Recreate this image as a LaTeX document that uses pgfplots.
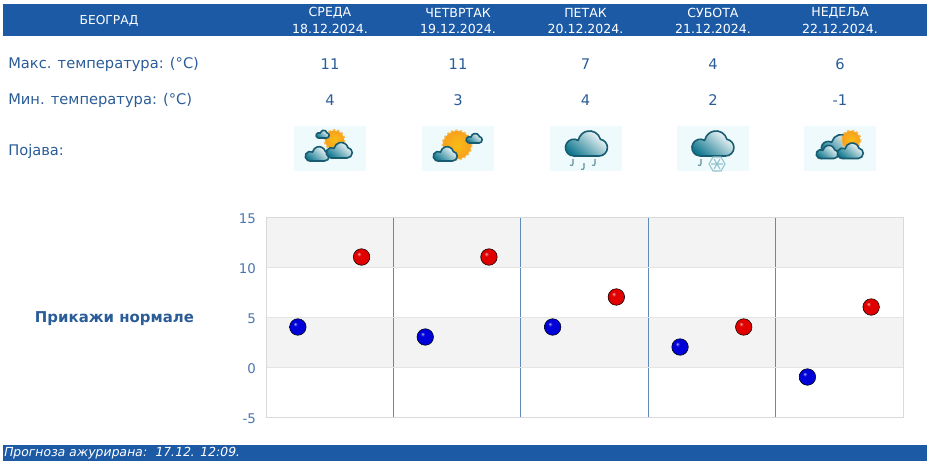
\documentclass[border=0pt]{standalone}
\usepackage{fontspec}
\setmainfont{DejaVu Sans}
\usepackage{pgfplots}
\pgfplotsset{compat=1.18}
\definecolor{band}{HTML}{1C5AA6}
\definecolor{txt}{HTML}{2A5C98}
\definecolor{tick}{HTML}{4A76AE}
\definecolor{vline}{HTML}{5E8ABA}
\definecolor{gline}{HTML}{E4E4E4}
\definecolor{gfill}{HTML}{F3F3F3}
\definecolor{icbg}{HTML}{EFFAFD}
\definecolor{cteal}{HTML}{12788F}
\definecolor{cdark}{HTML}{175C70}
\definecolor{sunc}{HTML}{F7A11E}
\definecolor{ray}{HTML}{F8BE5A}
\definecolor{rb}{HTML}{E00000}
\definecolor{bb}{HTML}{0000D8}
\pgfdeclareradialshading{redb}{\pgfpoint{-9bp}{10bp}}{color(0bp)=(white!70!rb); color(6bp)=(rb); color(24bp)=(rb); color(38bp)=(rb!78!black); color(50bp)=(rb!60!black)}
\pgfdeclareradialshading{blueb}{\pgfpoint{-9bp}{10bp}}{color(0bp)=(white!70!bb); color(6bp)=(bb); color(24bp)=(bb); color(38bp)=(bb!78!black); color(50bp)=(bb!60!black)}
\pgfdeclareplotmark{redball}{\shade[shading=redb] (0pt,0pt) circle (6.2pt);}
\pgfdeclareplotmark{blueball}{\shade[shading=blueb] (0pt,0pt) circle (6.2pt);}
\newcommand{\px}[1]{\fontsize{#1}{#1}\selectfont}
\newcommand{\cloudshape}{(-0.29,0) -- (0.31,0) arc[start angle=-90,end angle=80,radius=0.2] arc[start angle=15,end angle=165,radius=0.27] -- (-0.19,0.373) arc[start angle=60,end angle=270,radius=0.2] -- cycle}
% #1 x centre, #2 bottom y, #3 width
\newcommand{\cloud}[3]{%
 \begin{scope}[shift={(#1,#2)},x=#3*0.75pt,y=#3*0.75pt]
 \shade[bottom color=cteal,top color=white,shading angle=-40,draw=cdark,line width=1.2pt] \cloudshape;
 \end{scope}}
\newcommand{\sun}[3]{%
 \draw[ray,line width=2.2pt,dash pattern=on 1.8pt off 1.4pt] (#1,#2) circle (#3);
 \shade[inner color=sunc!70!yellow,outer color=sunc] (#1,#2) circle (#3);}
\newcommand{\drop}[2]{\draw[cdark!70,line width=0.8pt] (#1,#2) -- ++(0,5) -- ++(-1,1.5) -- ++(-2,-0.5);}
\newcommand{\iconbg}[1]{\fill[icbg] (#1,126) rectangle ++(72,45);}
\pgfplotstableread{
x y
0.25 4
1.25 3
2.25 4
3.25 2
4.25 -1
}\mins
\pgfplotstableread{
x y
0.75 11
1.75 11
2.75 7
3.75 4
4.75 6
}\maxs
\begin{document}
\begin{tikzpicture}
\begin{scope}[x=0.75pt,y=-0.75pt]
\useasboundingbox (0,0) rectangle (927,461);
\fill[band] (3,4) rectangle (927,36);
\fill[band] (3,445) rectangle (927,461);
\node[white] at (109,20.5) {\px{9.2pt}БЕОГРАД};
\foreach \cx/\d/\dt in {330/СРЕДА/18,458/ЧЕТВРТАК/19,585.5/ПЕТАК/20,713/СУБОТА/21,840/НЕДЕЉА/22}{
 \node[white] at (\cx,12.5) {\px{9.4pt}\d};
 \node[white] at (\cx,28.5) {\px{9.4pt}\dt.12.2024.};
}
\node[txt,anchor=west,inner sep=0pt] at (8,64) {\px{11pt}Макс. температура: (°C)};
\node[txt,anchor=west,inner sep=0pt] at (8,100.5) {\px{11pt}Мин. температура: (°C)};
\node[txt,anchor=west,inner sep=0pt] at (8,151.5) {\px{11pt}Појава:};
\foreach \cx/\a/\b in {330/11/4,458/11/3,585.5/7/4,713/4/2,840/6/-1}{
 \node[txt] at (\cx,64) {\px{11pt}\a};
 \node[txt] at (\cx,100) {\px{11pt}\b};
}
\node[txt,font=\bfseries] at (114.5,319) {\px{11.2pt}Прикажи нормале};
\node[white,anchor=west,inner sep=0pt] at (3,453) {\px{9.35pt}\addfontfeature{FakeSlant=0.2}Прогноза ажурирана:\ \ 17.12. 12:09.};
% icons
\iconbg{294}\iconbg{422}\iconbg{549.5}\iconbg{677}\iconbg{804}
\sun{334.5}{140}{9.5}
\cloud{322.5}{138}{13}
\cloud{317}{161}{24}
\cloud{339}{158}{26}
\sun{457}{145}{14}
\cloud{474}{143}{16}
\cloud{445}{161}{24}
\cloud{586}{156}{42}
\drop{573}{159}\drop{584}{163}\drop{595}{159}
\cloud{712.5}{156}{42}
\drop{701}{159}
\draw[cteal!45,line width=0.8pt] (713,157) -- (721,157) -- (725,164) -- (721,171) -- (713,171) -- (709,164) -- cycle (711,164) -- (723,164) (714,159) -- (720,169) (720,159) -- (714,169);
\cloud{838}{155}{34}
\sun{851}{140}{9}
\cloud{827}{158.5}{22}
\cloud{850}{158.5}{26}
\coordinate (O) at (266,417);
\end{scope}
\begin{axis}[at={(O)},anchor=south west,scale only axis,width=477.75pt,height=150pt,
 xmin=0,xmax=5,ymin=-5,ymax=15,
 xtick=\empty,
 ytick={-5,0,5,10,15},yticklabels={-5,0,5,10,15},
 major tick length=0pt,
 ymajorgrids,
 y grid style={gline,line width=0.75pt},
 axis line style={draw=gline!95!black,line width=0.75pt},
 tick label style={text=tick},
 yticklabel style={font=\px{10pt},xshift=-4pt,yshift=-1pt},
 axis on top,clip=false,
]
\addplot[fill=gfill,draw=none] coordinates {(0,10)(5,10)(5,15)(0,15)} -- cycle;
\addplot[fill=gfill,draw=none] coordinates {(0,0)(5,0)(5,5)(0,5)} -- cycle;
\addplot[fill=vline,draw=none] coordinates {(0.995,-5)(1.005,-5)(1.005,15)(0.995,15)} -- cycle;
\addplot[fill=vline,draw=none] coordinates {(1.995,-5)(2.005,-5)(2.005,15)(1.995,15)} -- cycle;
\addplot[fill=vline,draw=none] coordinates {(2.995,-5)(3.005,-5)(3.005,15)(2.995,15)} -- cycle;
\addplot[fill=vline,draw=none] coordinates {(3.995,-5)(4.005,-5)(4.005,15)(3.995,15)} -- cycle;
\addplot[only marks,mark=blueball] table[x=x,y=y] {\mins};
\addplot[only marks,mark=redball] table[x=x,y=y] {\maxs};
\end{axis}
\end{tikzpicture}
\end{document}
